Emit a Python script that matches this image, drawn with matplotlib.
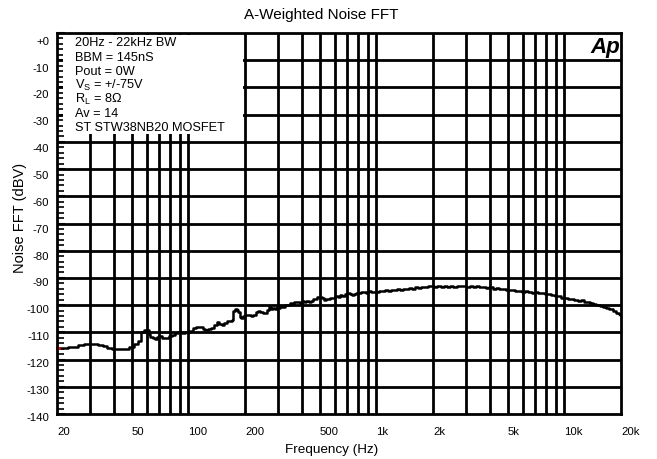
import matplotlib
matplotlib.use("Agg")
import matplotlib.pyplot as plt
from matplotlib.patches import Rectangle
from matplotlib.transforms import blended_transform_factory
import numpy as np

plt.rcParams['font.family'] = ['Liberation Sans', 'DejaVu Sans']
plt.rcParams['mathtext.fontset'] = 'custom'
plt.rcParams['mathtext.rm'] = 'Liberation Sans'

freq = [20, 22, 24, 25, 27, 29, 32, 34, 36, 38, 40, 44, 47, 50, 53, 55, 57, 59, 61, 62, 63.5, 66, 67.5,
        69, 71, 74, 77, 80, 83, 86, 90, 94, 97, 100, 104, 108, 112, 117, 121, 125, 130, 135, 140, 144,
        148, 153, 158, 163, 168, 172, 175, 178, 183, 186, 189, 193, 197, 202, 210, 218, 225, 232, 238,
        245, 252, 258, 265, 272, 278, 285, 292, 298, 305, 312, 320, 330, 340, 350, 360, 372, 385, 395,
        405, 418, 430, 442, 455, 468, 480, 492, 505, 518, 530, 545, 560, 578, 595, 612, 630, 650, 670,
        690, 710, 730, 750, 770, 790, 815, 840, 865, 890, 920, 950, 980, 1010, 1050, 1090, 1130, 1170,
        1210, 1260, 1310, 1360, 1410, 1460, 1520, 1580, 1640, 1700, 1770, 1840, 1910, 1990, 2070, 2150,
        2240, 2330, 2420, 2520, 2620, 2730, 2840, 2950, 3070, 3200, 3330, 3460, 3600, 3750, 3900, 4060,
        4230, 4400, 4580, 4770, 4960, 5160, 5370, 5590, 5820, 6060, 6310, 6570, 6840, 7120, 7410, 7710,
        8030, 8360, 8700, 9060, 9430, 9810, 10200, 10600, 11000, 11500, 12000, 12400, 12900, 13400,
        14000, 14500, 15100, 15700, 16300, 17000, 17700, 18400, 19100, 19700, 20000]
noise_dbv = [-115.9, -115.8, -115.5, -115.3, -114.6, -114.3, -114.3, -114.5, -115.0, -115.6, -116.1,
             -116.2, -116.2, -115.4, -114.3, -113.0, -110.0, -109.2, -109.2, -110.5, -111.8, -112.1,
             -112.6, -111.6, -111.4, -112.0, -111.9, -111.2, -111.0, -110.3, -110.0, -110.4, -110.0,
             -109.9, -109.4, -108.4, -108.1, -108.0, -108.6, -109.1, -108.8, -108.3, -107.2, -106.2,
             -107.0, -107.2, -106.5, -105.9, -105.8, -105.5, -102.0, -101.6, -101.7, -102.5, -104.4,
             -104.9, -104.0, -103.7, -103.8, -104.0, -103.8, -102.6, -102.1, -102.5, -102.8, -102.9,
             -101.8, -100.8, -101.3, -100.9, -101.4, -100.5, -101.0, -100.2, -100.6, -99.8, -100.0,
             -99.3, -99.7, -99.0, -98.8, -99.3, -98.6, -98.9, -98.3, -99.0, -98.5, -97.9, -97.8, -96.9,
             -97.0, -97.4, -98.0, -97.9, -97.8, -97.5, -97.2, -96.8, -96.9, -96.4, -96.6, -96.0, -95.6,
             -95.9, -96.4, -96.0, -95.4, -95.6, -95.1, -95.3, -95.4, -94.9, -95.2, -95.0, -95.2, -94.7,
             -94.9, -94.5, -94.8, -94.3, -94.6, -94.2, -94.4, -93.9, -94.2, -93.7, -93.9, -93.4, -93.7,
             -93.3, -93.5, -93.0, -92.8, -93.3, -93.0, -93.2, -92.9, -93.3, -92.9, -93.2, -92.8, -93.1,
             -92.8, -93.2, -92.9, -93.3, -93.0, -93.4, -93.2, -93.6, -93.5, -93.9, -93.8, -94.1, -94.0,
             -94.4, -94.5, -94.3, -94.8, -94.7, -95.1, -94.9, -95.3, -95.4, -95.2, -95.7, -95.6, -96.0,
             -95.9, -96.3, -96.6, -96.8, -97.3, -97.2, -97.8, -97.7, -98.1, -98.3, -98.2, -98.7, -98.9,
             -99.1, -99.6, -99.8, -100.3, -100.6, -101.2, -101.6, -102.3, -102.8, -103.3, -103.8]

x_tick_values = [20, 50, 100, 200, 500, 1000, 2000, 5000, 10000, 20000]
x_tick_labels = ["20", "50", "100", "200", "500", "1k", "2k", "5k", "10k", "20k"]
x_grid_values = [30, 40, 50, 60, 70, 80, 90, 100, 200, 300, 400, 500, 600, 700, 800, 900,
                 1000, 2000, 3000, 4000, 5000, 6000, 7000, 8000, 9000, 10000]
y_tick_values = list(range(-140, 1, 10))
y_tick_labels = ["+0" if v == 0 else str(v) for v in y_tick_values]

info_lines = ["20Hz - 22kHz BW", "BBM = 145nS", "Pout = 0W",
              r"V$_\mathregular{S}$ = +/-75V", r"R$_\mathregular{L}$ = 8Ω",
              "Av = 14", "ST STW38NB20 MOSFET"]

W, H = 657, 460
fig = plt.figure(figsize=(W / 100, H / 100), dpi=100)
L, R, T, B = 57, 621, 34, 415
ax = fig.add_axes([L / W, 1 - B / H, (R - L) / W, (B - T) / H])
ax.set_xscale('log')
ax.set_xlim(20, 20000)
ax.set_ylim(-140, 0)

for v in x_grid_values:
    ax.axvline(v, color='black', lw=2.0, zorder=1)
for v in y_tick_values[1:-1]:
    ax.axhline(v, color='black', lw=2.0, zorder=1)

def px2ax(xp, yp):
    return (xp - L) / (R - L), (B - yp) / (B - T)
x0, y0 = px2ax(63, 135)
x1, y1 = px2ax(243, 36)
ax.add_patch(Rectangle((x0, y0), x1 - x0, y1 - y0, transform=ax.transAxes,
                       facecolor='white', edgecolor='none', zorder=2))

ax.plot(freq, noise_dbv, color='black', lw=1.8, drawstyle='steps-mid', zorder=3)
ax.plot([20, 20.6], [noise_dbv[0], noise_dbv[0]], color='red', lw=2.0, zorder=4, clip_on=False)

ax.set_xticks(x_tick_values)
ax.set_xticklabels(x_tick_labels)
ax.xaxis.set_minor_locator(matplotlib.ticker.NullLocator())
ax.set_yticks(y_tick_values)
ax.set_yticklabels([])
ax.set_yticks(np.arange(-140, 0.1, 2), minor=True)
ax.tick_params(axis='x', which='major', length=0, pad=9, labelsize=8.2)
ax.tick_params(axis='y', which='major', direction='in', length=6, width=1.5)
ax.tick_params(axis='y', which='minor', direction='in', length=5, width=1.2)
for lbl in ax.get_xticklabels():
    lbl.set_horizontalalignment('left')
for s in ax.spines.values():
    s.set_linewidth(2.0)
    s.set_zorder(5)

# y tick labels (the analyser draws them on a slightly compressed scale)
tr = blended_transform_factory(ax.transAxes, ax.transData)
for v, lab in zip(y_tick_values, y_tick_labels):
    ax.text((49 - L) / (R - L), -141 + (v + 140) * 0.987, lab, transform=tr,
            ha='right', va='center', fontsize=8.2, clip_on=False)

fig.text(331.5 / W, 1 - 450 / H, "Frequency (Hz)", ha='center', va='center', fontsize=9.7)
fig.text(20 / W, 1 - 218 / H, "Noise FFT (dBV)", ha='center', va='center', fontsize=10.5,
         rotation=90)
fig.text(321.5 / W, 1 - 15 / H, "A-Weighted Noise FFT", ha='center', va='center', fontsize=11)

for i, line in enumerate(info_lines):
    fig.text(75 / W, 1 - (43.5 + i * 14.1) / H, line, ha='left', va='center', fontsize=9.2, zorder=6)

fig.text(620 / W, 1 - 47 / H, "Ap", ha='right', va='center', fontsize=16,
         fontweight='bold', fontstyle='italic')

fig.savefig("out.png", dpi=100)
